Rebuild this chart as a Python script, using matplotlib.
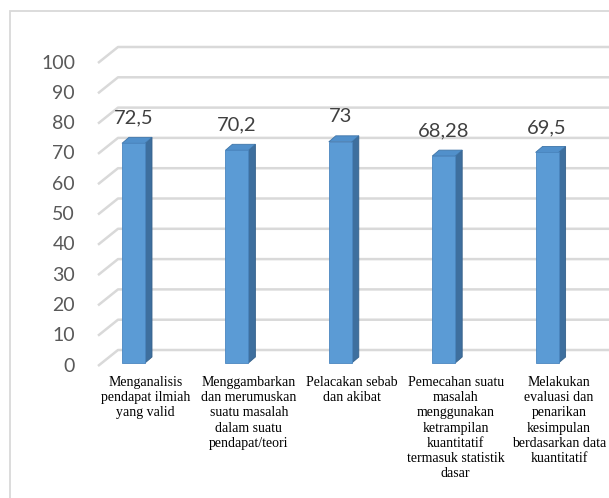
import matplotlib
matplotlib.use("Agg")
import matplotlib.pyplot as plt
from matplotlib.patches import Polygon, Rectangle

categories = [
    "Menganalisis\npendapat ilmiah\nyang valid",
    "Menggambarkan\ndan merumuskan\nsuatu masalah\ndalam suatu\npendapat/teori",
    "Pelacakan sebab\ndan akibat",
    "Pemecahan suatu\nmasalah\nmenggunakan\nketrampilan\nkuantitatif\ntermasuk statistik\ndasar",
    "Melakukan\nevaluasi dan\npenarikan\nkesimpulan\nberdasarkan data\nkuantitatif",
]
values = [72.5, 70.2, 73, 68.28, 69.5]
value_labels = ["72,5", "70,2", "73", "68,28", "69,5"]
yticks = list(range(0, 101, 10))

W, H = 609, 498
fig = plt.figure(figsize=(W / 100, H / 100), dpi=100)
ax = fig.add_axes([0, 0, 1, 1])

# pixel -> data scale (one category = 103.4 px, one value unit = 3.03 px)
sx, sy = 103.4, 3.03
x_org, y_org = 129.5, 366
ax.set_xlim(-x_org / sx, (W - x_org) / sx)
ax.set_ylim((y_org - H) / sy, y_org / sy)
ax.axis("off")
PX, PY = 1 / sx, 1 / sy

# 3d offsets
dxb, dyb = 20 * PX, 16 * PY     # back wall
dxf, dyf = 4 * PX, 3 * PY       # bar front plane
ddx, ddy = 7 * PX, 6 * PY       # bar depth
bw = 23 * PX
x_axis = (98 - x_org) * PX

grid_c = "#d9d9d9"
for v in yticks:
    ax.plot([x_axis, x_axis + dxb, 6], [v, v + dyb, v + dyb],
            color=grid_c, lw=1.8, zorder=1, solid_capstyle="butt")
    ax.text((75 - x_org) * PX, v, str(v), ha="right", va="center",
            fontsize=14, family="Lato", color="#595959")

front_c, side_c, top_c = "#5b9bd5", "#3e6f9e", "#5190cb"
for i, (v, lab) in enumerate(zip(values, value_labels)):
    xl = i + dxf - bw / 2
    xr = xl + bw
    yb, yt = dyf, v + dyf
    side = Polygon([(xr, yb), (xr + ddx, yb + ddy), (xr + ddx, yt + ddy), (xr, yt)],
                   closed=True, fc=side_c, ec="#35618b", lw=0.6, zorder=3)
    top = Polygon([(xl, yt), (xr, yt), (xr + ddx, yt + ddy), (xl + ddx, yt + ddy)],
                  closed=True, fc=top_c, ec="#3f75a8", lw=0.6, zorder=3)
    front = Rectangle((xl, yb), bw, yt - yb, fc=front_c, ec="#4a86c0", lw=0.6, zorder=4)
    for p in (side, top, front):
        ax.add_patch(p)
    ax.text(i + dxf, yt + 25 * PY, lab, ha="center", va="center",
            fontsize=14.5, family="Lato", color="#404040", zorder=5)

for i, cat in enumerate(categories):
    ax.text(i + 16 * PX, (y_org - 376) * PY, cat, ha="center", va="top",
            fontsize=10, family="Liberation Serif", color="black",
            linespacing=1.22)

fig.add_artist(Rectangle((10 / W, -0.1), 1.2, 1 - 11 / H + 0.1,
                         transform=fig.transFigure, fill=False,
                         ec="#d9d9d9", lw=1.3))

fig.savefig("out.png", dpi=100)
